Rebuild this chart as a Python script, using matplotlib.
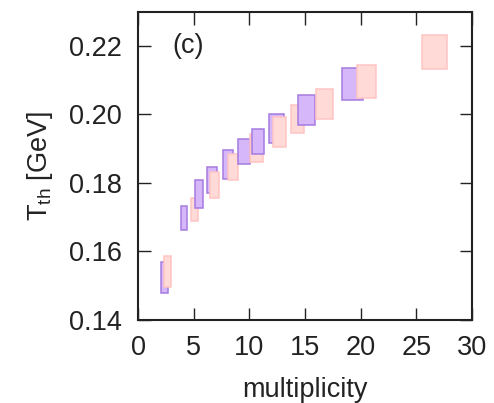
import matplotlib
matplotlib.use("Agg")
import matplotlib.pyplot as plt
from matplotlib.patches import Rectangle

plt.rcParams['font.family'] = ['Liberation Sans', 'DejaVu Sans']

# serie violet (centru, semi-latime, semi-inaltime)
mult_a = [2.35, 4.09, 5.49, 6.62, 8.10, 9.52, 10.75, 12.44, 15.14, 19.28]
dmult_a = [0.30, 0.27, 0.36, 0.44, 0.45, 0.52, 0.55, 0.65, 0.74, 0.92]
T_a = [0.1524, 0.1698, 0.1768, 0.1808, 0.1854, 0.1891, 0.1922, 0.1960, 0.2014, 0.2090]
dT_a = [0.0046, 0.0036, 0.0040, 0.0038, 0.0041, 0.0037, 0.0036, 0.0042, 0.0044, 0.0047]

# serie roz
mult_b = [2.62, 5.03, 6.85, 8.55, 10.65, 12.70, 14.33, 16.75, 20.55, 26.65]
dmult_b = [0.32, 0.32, 0.40, 0.45, 0.60, 0.60, 0.61, 0.76, 0.84, 1.16]
T_b = [0.1541, 0.1722, 0.1794, 0.1847, 0.1902, 0.1948, 0.1986, 0.2031, 0.2097, 0.2182]
dT_b = [0.0045, 0.0034, 0.0037, 0.0038, 0.0041, 0.0044, 0.0041, 0.0044, 0.0048, 0.0049]

xticks = [0, 5, 10, 15, 20, 25, 30]
yticks = [0.14, 0.16, 0.18, 0.20, 0.22]

txt = '#222222'

fig = plt.figure(figsize=(4.94, 4.03), dpi=100)
ax = fig.add_axes([0.28, 0.206, 0.675, 0.765])

boxes = []
for x, dx, y, dy in zip(mult_a, dmult_a, T_a, dT_a):
    boxes.append((x, dx, y, dy, '#d6b8fa', '#a57ae0'))
for x, dx, y, dy in zip(mult_b, dmult_b, T_b, dT_b):
    boxes.append((x, dx, y, dy, '#ffdad6', '#ffc4c4'))
boxes.sort(key=lambda b: b[0])

for i, (x, dx, y, dy, fc, ec) in enumerate(boxes):
    ax.add_patch(Rectangle((x - dx, y - dy), 2 * dx, 2 * dy,
                           facecolor=fc, edgecolor=ec, lw=1.1, zorder=2 + i))

ax.set_xlim(0, 30)
ax.set_ylim(0.14, 0.23)
ax.set_xticks(xticks)
ax.set_yticks(yticks)
ax.set_xticklabels([str(t) for t in xticks])
ax.set_yticklabels(['%.2f' % t for t in yticks])

ax.tick_params(direction='in', length=9, width=1, top=True, right=True,
               labelsize=19.5, colors=txt, pad=11)
ax.tick_params(axis='y', pad=12)
for s in ax.spines.values():
    s.set_linewidth(1.5)
    s.set_color(txt)

ax.set_xlabel('multiplicity', fontsize=19.5, color=txt, labelpad=11)
ax.set_ylabel(r'$\mathregular{T_{th}}$ [GeV]', fontsize=19.5, color=txt, labelpad=10)

ax.text(3.1, 0.22, '(c)', fontsize=19.5, color=txt, ha='left', va='center')

fig.savefig('out.png', dpi=100)
